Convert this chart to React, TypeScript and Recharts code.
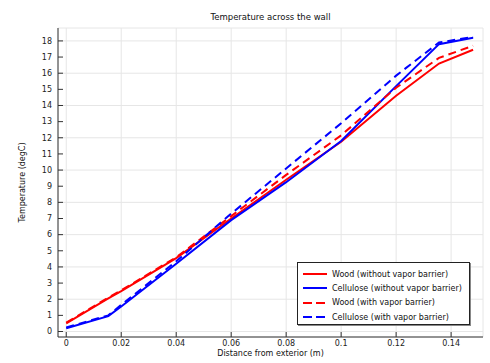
import { LineChart, Line, XAxis, YAxis, CartesianGrid } from 'recharts';

const xValues = [0, 0.0153, 0.02, 0.04, 0.06, 0.08, 0.1, 0.12, 0.1356, 0.148];
const woodNoBarrier = [0.5, 2.05, 2.5, 4.55, 7.0, 9.4, 11.75, 14.6, 16.6, 17.45];
const celluloseNoBarrier = [0.2, 0.95, 1.55, 4.2, 6.9, 9.25, 11.8, 15.2, 17.8, 18.2];
const woodBarrier = [0.55, 2.1, 2.55, 4.6, 7.15, 9.7, 12.15, 15.1, 16.95, 17.7];
const celluloseBarrier = [0.25, 1.0, 1.65, 4.35, 7.3, 10.1, 12.9, 15.85, 17.9, 18.25];

const xTicks = [0, 0.02, 0.04, 0.06, 0.08, 0.1, 0.12, 0.14];
const yTicks = [0, 1, 2, 3, 4, 5, 6, 7, 8, 9, 10, 11, 12, 13, 14, 15, 16, 17, 18];

const seriesList = [
  { key: 'woodNo', name: 'Wood (without vapor barrier)', color: '#ff0000', dash: undefined },
  { key: 'celluloseNo', name: 'Cellulose (without vapor barrier)', color: '#0000ff', dash: undefined },
  { key: 'wood', name: 'Wood (with vapor barrier)', color: '#ff0000', dash: '8 5' },
  { key: 'cellulose', name: 'Cellulose (with vapor barrier)', color: '#0000ff', dash: '8 5' },
];

const data = xValues.map((x, i) => ({
  x,
  woodNo: woodNoBarrier[i],
  celluloseNo: celluloseNoBarrier[i],
  wood: woodBarrier[i],
  cellulose: celluloseBarrier[i],
}));

const font = "'DejaVu Sans', sans-serif";
const tickStyle = { fill: '#222', fontSize: 8, fontFamily: font };
const xDomain = [-0.003, 0.1516];
const yDomain = [-0.34, 18.8];

export default function App() {
  return (
    <div style={{ position: 'absolute', left: 0, top: 0, width: 490, height: 363, background: '#fff', fontFamily: font }}>
      <div style={{ position: 'absolute', left: 58, width: 425, top: 12, textAlign: 'center', fontSize: 8.5, color: '#111' }}>
        Temperature across the wall
      </div>
      <LineChart width={490} height={363} data={data} margin={{ top: 28, right: 7, left: 8, bottom: 6 }}>
        <CartesianGrid xAxisId="main" yAxisId="main" stroke="#e6e6e6" strokeWidth={1} />
        <XAxis
          xAxisId="main"
          dataKey="x"
          type="number"
          domain={xDomain}
          ticks={xTicks}
          allowDataOverflow
          height={20}
          stroke="#333"
          tickSize={-5}
          tickMargin={8}
          tick={tickStyle}
          tickFormatter={(v: number) => String(v)}
          label={{ value: 'Distance from exterior (m)', position: 'insideBottom', offset: 1, style: { fontSize: 8, fontFamily: font, fill: '#111' } }}
        />
        <XAxis
          xAxisId="top"
          orientation="top"
          dataKey="x"
          type="number"
          domain={xDomain}
          ticks={xTicks}
          allowDataOverflow
          height={0}
          stroke="#333"
          tickSize={-5}
          tickFormatter={() => ''}
        />
        <YAxis
          yAxisId="main"
          type="number"
          domain={yDomain}
          ticks={yTicks}
          allowDataOverflow
          width={50}
          stroke="#333"
          tickSize={-5}
          tickMargin={11}
          tick={tickStyle}
          label={{ value: 'Temperature (degC)', angle: -90, position: 'insideLeft', offset: 14, style: { fontSize: 8, fontFamily: font, fill: '#111', textAnchor: 'middle' } }}
        />
        <YAxis
          yAxisId="right"
          orientation="right"
          type="number"
          domain={yDomain}
          ticks={yTicks}
          allowDataOverflow
          width={0}
          stroke="#333"
          tickSize={-5}
          tickFormatter={() => ''}
        />
        {/* invisible copy so the top/right frame axes have a series bound to them */}
        <Line
          xAxisId="top"
          yAxisId="right"
          dataKey="woodNo"
          stroke="none"
          strokeOpacity={0}
          dot={false}
          activeDot={false}
          legendType="none"
          isAnimationActive={false}
        />
        {seriesList.map((s) => (
          <Line
            key={s.key}
            xAxisId="main"
            yAxisId="main"
            dataKey={s.key}
            name={s.name}
            stroke={s.color}
            strokeWidth={2}
            strokeDasharray={s.dash}
            dot={false}
            type="linear"
            isAnimationActive={false}
          />
        ))}
      </LineChart>
      <div
        style={{
          position: 'absolute',
          left: 297,
          top: 262,
          width: 173,
          height: 63,
          border: '1px solid #222',
          boxShadow: '1px 1px 0 #888',
          background: '#fff',
          boxSizing: 'border-box',
          padding: '4px 0 0 5px',
        }}
      >
        {seriesList.map((s) => (
          <div key={s.key} style={{ display: 'flex', alignItems: 'center', height: 14.3, fontSize: 8, color: '#111' }}>
            <svg width={24} height={4} style={{ marginRight: 5 }}>
              <line x1={0} y1={2} x2={24} y2={2} stroke={s.color} strokeWidth={2} strokeDasharray={s.dash ? '9 4' : undefined} />
            </svg>
            <span>{s.name}</span>
          </div>
        ))}
      </div>
    </div>
  );
}
